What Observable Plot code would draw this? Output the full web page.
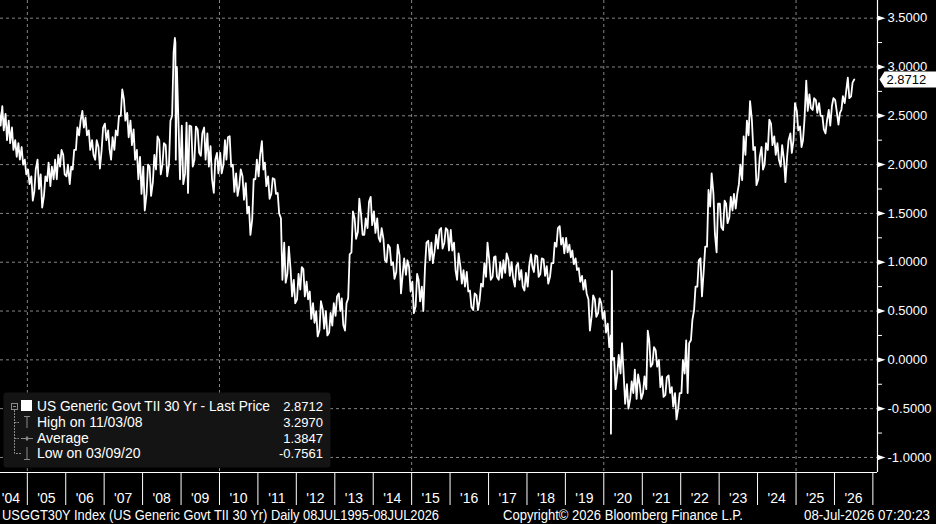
<!DOCTYPE html>
<html><head><meta charset="utf-8">
<script src="https://cdn.jsdelivr.net/npm/d3@7"></script>
<script src="https://cdn.jsdelivr.net/npm/@observablehq/plot@0.6"></script>
<style>
html,body{margin:0;padding:0;background:#000;}
#chart{width:936px;height:524px;overflow:hidden;}
</style></head><body><div id="chart"></div>
<script>
// USGGT30Y — readings: two values per month (first half, second half)
const y2004 = [[2.55,2.40],[2.60,2.35],[2.52,2.25],[2.45,2.22],[2.38,2.15],[2.25,2.08],[2.22,2.05],[2.18,2.00],[2.05,1.90]]; // Apr–Dec
const y2005 = [[1.95,1.80],[1.88,1.63],[1.72,1.95],[2.05,1.75],[1.90,1.56],[1.68,1.88],[1.83,2.02],[1.78,1.98],[1.85,2.05],[1.85,2.10],[1.98,2.15],[2.10,1.90]];
const y2006 = [[1.88,2.00],[1.80,1.98],[1.95,2.15],[2.15,2.38],[2.30,2.45],[2.55,2.38],[2.48,2.30],[2.35,2.15],[2.25,2.10],[2.05,2.25],[2.18,1.96],[2.15,2.38]];
const y2007 = [[2.42,2.25],[2.35,2.15],[2.05,2.28],[2.15,2.35],[2.30,2.50],[2.50,2.77],[2.67,2.45],[2.53,2.28],[2.45,2.20],[2.36,2.05],[2.15,1.85],[2.08,1.70]];
const y2008 = [[1.98,1.53],[1.70,2.00],[1.98,1.68],[1.82,2.10],[1.95,2.29],[2.25,1.90],[2.00,2.22],[2.20,1.88],[2.00,2.45],[2.50,3.15],[3.25,3.00],[2.40,1.85]];
const y2009 = [[2.40,1.80],[1.91,2.43],[1.71,2.40],[2.39,1.98],[2.05,2.39],[2.36,2.12],[2.09,2.32],[2.38,2.05],[2.32,1.98],[2.19,1.85],[1.71,2.05],[2.12,1.91]];
const y2010 = [[2.12,1.91],[2.00,2.25],[2.05,2.28],[2.29,1.98],[2.00,1.72],[1.91,1.68],[1.78,1.95],[1.88,1.64],[1.81,1.50],[1.57,1.28],[1.44,1.85],[1.85,2.05]];
const y2011 = [[1.88,2.10],[2.24,1.95],[2.02,1.78],[1.88,1.65],[1.70,1.86],[1.85,1.70],[1.71,1.50],[1.45,0.82],[1.20,0.79],[0.88,1.16],[0.92,0.65],[0.82,0.58]];
const y2012 = [[0.62,0.88],[0.72,0.95],[0.93,0.65],[0.80,0.62],[0.70,0.42],[0.58,0.38],[0.50,0.24],[0.30,0.60],[0.52,0.32],[0.50,0.25],[0.28,0.48],[0.35,0.58]];
const y2013 = [[0.45,0.65],[0.68,0.50],[0.63,0.36],[0.30,0.58],[0.63,1.08],[1.10,1.52],[1.45,1.24],[1.31,1.65],[1.48,1.28],[1.28,1.45],[1.35,1.62],[1.67,1.38]];
const y2014 = [[1.52,1.30],[1.45,1.25],[1.21,1.35],[1.24,1.02],[1.00,1.18],[1.15,0.97],[1.00,0.83],[0.90,1.18],[1.07,0.68],[0.88,1.04],[0.87,1.02],[0.95,0.70]];
const y2015 = [[0.80,0.48],[0.55,0.88],[0.82,0.60],[0.75,0.50],[0.95,1.20],[1.22,1.02],[1.20,0.99],[1.12,1.28],[1.14,1.33],[1.35,1.14],[1.20,1.35],[1.33,1.12]];
const y2016 = [[1.33,1.12],[1.20,0.92],[0.82,1.09],[0.96,0.78],[0.92,0.75],[0.90,0.70],[0.71,0.54],[0.51,0.68],[0.66,0.51],[0.61,0.78],[0.75,0.99],[0.85,1.20]];
const y2017 = [[1.02,0.82],[0.85,1.05],[1.06,0.85],[0.82,1.00],[0.84,1.02],[0.89,1.09],[1.03,0.86],[1.00,0.84],[0.75,0.96],[0.99,0.82],[0.92,0.75],[0.71,0.89]];
const y2018 = [[0.75,0.96],[1.08,0.95],[0.90,1.07],[1.06,0.85],[0.88,1.04],[1.03,0.86],[0.96,0.78],[0.85,0.99],[0.99,1.20],[1.16,1.35],[1.37,1.18],[1.25,1.09]];
const y2019 = [[1.25,1.10],[1.18,1.05],[1.12,0.98],[1.04,0.92],[0.94,0.80],[0.86,0.72],[0.82,0.68],[0.62,0.30],[0.45,0.66],[0.62,0.44],[0.48,0.63],[0.58,0.42]];
const y2020 = [[0.50,0.28],[0.37,0.13],[0.25,0.00],[0.02,-0.30],[-0.15,0.05],[-0.14,0.17],[-0.15,-0.45],[-0.25,-0.50],[-0.40,-0.22],[-0.34,-0.10],[-0.40,-0.15],[-0.25,-0.40]];
const y2021 = [[-0.34,-0.17],[-0.30,0.30],[0.20,-0.07],[-0.04,0.13],[0.10,-0.07],[0.00,-0.28],[-0.17,-0.38],[-0.36,-0.18],[-0.16,-0.34],[-0.28,-0.48],[-0.34,-0.61],[-0.50,-0.34]];
const y2022 = [[-0.34,0.00],[-0.14,0.20],[-0.34,0.17],[0.20,0.41],[0.51,0.75],[0.75,1.02],[1.04,0.65],[0.92,1.16],[1.16,1.74],[1.57,1.91],[1.70,1.29],[1.10,1.60]];
const y2023 = [[1.60,1.36],[1.33,1.63],[1.60,1.40],[1.46,1.67],[1.53,1.70],[1.55,1.70],[1.80,2.00],[1.84,2.29],[2.10,2.45],[2.30,2.65],[2.46,2.15],[2.18,1.79]];
const y2024 = [[1.85,2.08],[2.18,1.95],[2.00,2.22],[2.15,2.46],[2.42,2.20],[2.29,2.10],[2.22,2.05],[1.98,2.20],[2.05,1.82],[2.08,2.25],[2.32,2.12],[2.25,2.63]];
const y2025 = [[2.55,2.35],[2.39,2.18],[2.25,2.46],[2.86,2.55],[2.72,2.58],[2.56,2.68],[2.66,2.53],[2.63,2.50],[2.50,2.36],[2.32,2.45],[2.56,2.40],[2.60,2.68]];
const y2026 = [[2.66,2.55],[2.41,2.53],[2.56,2.70],[2.63,2.75],[2.89,2.68],[2.70,2.84]]; // Jan–Jun
const spikeDates = ["2008-11-03","2008-11-12","2020-03-09","2020-03-18"];
const spikeValues = [3.297, 2.05, -0.7561, 0.91];
const lastDate = "2026-07-08";
const lastValue = 2.8712;

const yTicks = [-1, -0.5, 0, 0.5, 1, 1.5, 2, 2.5, 3, 3.5];
const yMinorTicks = [-0.75, -0.25, 0.25, 0.75, 1.25, 1.75, 2.25, 2.75, 3.25];
const yearStarts = ["2005","2006","2007","2008","2009","2010","2011","2012","2013","2014","2015","2016","2017","2018","2019","2020","2021","2022","2023","2024","2025","2026","2027"];
const gridYears = ["2005","2010","2015","2020","2025"];
const yearLabelDates = ["2004-07-29","2005-07-01","2006-07-01","2007-07-01","2008-07-01","2009-07-01","2010-07-01","2011-07-01","2012-07-01","2013-07-01","2014-07-01","2015-07-01","2016-07-01","2017-07-01","2018-07-01","2019-07-01","2020-07-01","2021-07-01","2022-07-01","2023-07-01","2024-07-01","2025-07-01","2026-07-01"];
const legendLabels = ["US Generic Govt TII 30 Yr - Last Price","High on 11/03/08","Average","Low on 03/09/20"];
const legendValues = ["2.8712","3.2970","1.3847","-0.7561"];
const footerLeft = "USGGT30Y Index (US Generic Govt TII 30 Yr) Daily 08JUL1995-08JUL2026";
const footerMid = "Copyright\u00A9 2026 Bloomberg Finance L.P.";
const footerRight = "08-Jul-2026 07:20:23";

const yearBlocks = [[2004,3,y2004],[2005,0,y2005],[2006,0,y2006],[2007,0,y2007],[2008,0,y2008],[2009,0,y2009],[2010,0,y2010],[2011,0,y2011],[2012,0,y2012],[2013,0,y2013],[2014,0,y2014],[2015,0,y2015],[2016,0,y2016],[2017,0,y2017],[2018,0,y2018],[2019,0,y2019],[2020,0,y2020],[2021,0,y2021],[2022,0,y2022],[2023,0,y2023],[2024,0,y2024],[2025,0,y2025],[2026,0,y2026]];
const series = [];
for (const [yr, m0, arr] of yearBlocks) {
  arr.forEach((pair, i) => {
    series.push({date: new Date(Date.UTC(yr, m0 + i, 8)), value: pair[0]});
    series.push({date: new Date(Date.UTC(yr, m0 + i, 22)), value: pair[1]});
  });
}
spikeDates.forEach((d, i) => series.push({date: new Date(d), value: spikeValues[i]}));
series.push({date: new Date(lastDate), value: lastValue});
series.sort((a, b) => a.date - b.date);

const xStart = new Date("2004-04-21"), xEnd = new Date("2027-02-14");
const yMin = -1.154, yMax = 3.681;
const FONT = "'Liberation Sans', Arial, Helvetica, sans-serif";
const GRID = "#858585";

const triangle = {draw(c) { c.moveTo(0, -2.7); c.lineTo(8, 0); c.lineTo(0, 2.7); c.closePath(); }};
const tag = {draw(c) { c.moveTo(2, 0); c.lineTo(7, -8); c.lineTo(59, -8); c.lineTo(59, 8); c.lineTo(7, 8); c.closePath(); }};

const chart = Plot.plot({
  width: 936, height: 524,
  marginLeft: 0, marginRight: 59, marginTop: 0, marginBottom: 52,
  style: {background: "#000", color: "white", fontFamily: FONT, fontSize: "14px", overflow: "visible"},
  x: {type: "utc", domain: [xStart, xEnd]},
  y: {domain: [yMin, yMax]},
  marks: [
    Plot.ruleY(yTicks, {stroke: GRID, strokeDasharray: "3,3", strokeWidth: 1}),
    Plot.ruleX(gridYears.map(d => new Date(d)), {stroke: GRID, strokeDasharray: "3,3", strokeWidth: 1}),
    Plot.line(series, {x: "date", y: "value", stroke: "white", strokeWidth: 1.8, clip: true}),
    Plot.ruleX([xEnd], {stroke: "white", strokeWidth: 1.2}),
    Plot.ruleY([yMin], {stroke: "white", strokeWidth: 1.2}),
    Plot.axisX(yearStarts.map(d => new Date(d)), {tickSize: 33, tickFormat: () => "", stroke: "white", label: null}),
    Plot.axisX(yearLabelDates.map(d => new Date(d)), {tickSize: 0, tickPadding: 21, tickFormat: d => "'" + String(d.getUTCFullYear()).slice(2), fill: "white", fontSize: 14, label: null}),
    Plot.axisY(yMinorTicks, {anchor: "right", tickSize: 4, tickFormat: () => "", stroke: "white", label: null}),
    Plot.dot(yTicks, {y: d => d, frameAnchor: "right", symbol: triangle, fill: "white", stroke: null}),
    Plot.axisY(yTicks, {anchor: "right", tickSize: 0, tickPadding: 10, tickFormat: d => d.toFixed(4), fill: "white", fontSize: 13, label: null}),
    Plot.dot([lastValue], {y: d => d, frameAnchor: "right", symbol: tag, fill: "white", stroke: null}),
    Plot.text([lastValue], {y: d => d, frameAnchor: "right", dx: 9, textAnchor: "start", text: d => d.toFixed(4), fill: "black", fontSize: 13})
  ]
});
document.getElementById("chart").appendChild(chart);

// Legend box and footer (chart chrome)
const svg = d3.select(chart);
const lg = svg.append("g").attr("font-family", FONT).attr("font-size", 14).attr("fill", "white").attr("text-anchor", "start");
lg.append("rect").attr("x", 3.5).attr("y", 392.5).attr("width", 327).attr("height", 75).attr("rx", 3).attr("fill", "#141414");
const TREE = "#8a8a8a";
lg.append("rect").attr("x", 11.5).attr("y", 403.5).attr("width", 6).attr("height", 6).attr("fill", "none").attr("stroke", TREE);
lg.append("line").attr("x1", 13).attr("x2", 16).attr("y1", 406.5).attr("y2", 406.5).attr("stroke", TREE);
lg.append("path").attr("d", "M14.5,410 V453.5 H21 M14.5,422.5 H19 M14.5,438.5 H19").attr("fill", "none").attr("stroke", TREE).attr("stroke-dasharray", "2,1");
lg.append("rect").attr("x", 21).attr("y", 400).attr("width", 11).attr("height", 11).attr("fill", "white");
lg.append("path").attr("d", "M24,416.5 H30 M27,416.5 V428").attr("stroke", TREE).attr("fill", "none");
lg.append("path").attr("d", "M21,438.5 H33 M27,436 V441").attr("stroke", TREE).attr("fill", "none");
lg.append("circle").attr("cx", 27).attr("cy", 438.5).attr("r", 1.6).attr("fill", TREE);
lg.append("path").attr("d", "M27,447 V459.5 M24,459.5 H30").attr("stroke", TREE).attr("fill", "none");
const baselines = [410.5, 426.7, 442.5, 458];
legendLabels.forEach((t, i) => {
  const el = lg.append("text").attr("x", 37).attr("y", baselines[i]).attr("text-anchor", "start").text(t);
  if (i === 0) el.attr("textLength", 233).attr("lengthAdjust", "spacingAndGlyphs");
});
legendValues.forEach((t, i) => {
  lg.append("text").attr("x", 323).attr("y", baselines[i]).attr("text-anchor", "end").attr("font-size", 13).text(t);
});

const ft = svg.append("g").attr("font-family", FONT).attr("font-size", 14).attr("fill", "white").attr("text-anchor", "start");
ft.append("text").attr("x", 2).attr("y", 520).attr("text-anchor", "start").attr("textLength", 437).attr("lengthAdjust", "spacingAndGlyphs").text(footerLeft);
ft.append("text").attr("x", 503).attr("y", 520).attr("text-anchor", "start").attr("textLength", 240).attr("lengthAdjust", "spacingAndGlyphs").text(footerMid);
ft.append("text").attr("x", 804).attr("y", 520).attr("text-anchor", "start").attr("textLength", 126).attr("lengthAdjust", "spacingAndGlyphs").text(footerRight);
</script>
</body></html>
